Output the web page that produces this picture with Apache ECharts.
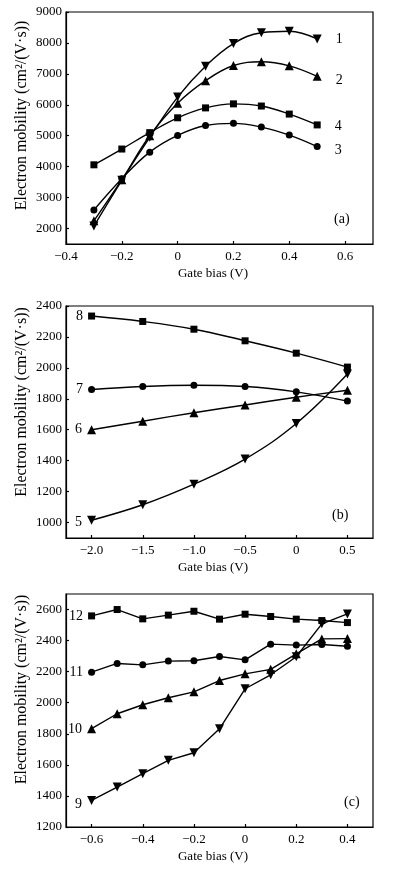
<!DOCTYPE html>
<html><head><meta charset="utf-8">
<script src="https://cdn.jsdelivr.net/npm/echarts@6/dist/echarts.min.js"></script>
<style>html,body{margin:0;padding:0;background:#fff}#c{width:394px;height:871px}</style>
</head><body><div id="c"></div>
<script>
// Panel (a)
const xA = [-0.3, -0.2, -0.1, 0, 0.1, 0.2, 0.3, 0.4, 0.5];
const a1 = [2080, 3560, 4950, 6250, 7250, 7980, 8330, 8380, 8130];
const a2 = [2250, 3580, 5000, 6050, 6780, 7270, 7390, 7260, 6920];
const a3 = [2600, 3610, 4470, 5010, 5330, 5400, 5280, 5020, 4650];
const a4 = [4060, 4570, 5100, 5580, 5900, 6030, 5960, 5700, 5350];
const aYTicks = [2000, 3000, 4000, 5000, 6000, 7000, 8000, 9000];
const aXTicks = [-0.4, -0.2, 0, 0.2, 0.4, 0.6];
// Panel (b)
const xB = [-2.0, -1.5, -1.0, -0.5, 0, 0.5];
const b5 = [1015, 1115, 1248, 1410, 1640, 1960];
const b6 = [1600, 1655, 1710, 1760, 1810, 1855];
const b7 = [1860, 1880, 1888, 1880, 1845, 1785];
const b8 = [2335, 2300, 2250, 2175, 2095, 2005];
const bYTicks = [1000, 1200, 1400, 1600, 1800, 2000, 2200, 2400];
const bXTicks = [-2.0, -1.5, -1.0, -0.5, 0, 0.5];
// Panel (c)
const xC = [-0.6, -0.5, -0.4, -0.3, -0.2, -0.1, 0, 0.1, 0.2, 0.3, 0.4];
const c9  = [1371, 1457, 1543, 1629, 1678, 1832, 2090, 2180, 2296, 2508, 2572];
const c10 = [1833, 1929, 1987, 2032, 2070, 2143, 2186, 2215, 2315, 2411, 2413];
const c11 = [2197, 2253, 2244, 2268, 2270, 2298, 2276, 2377, 2371, 2375, 2364];
const c12 = [2559, 2600, 2540, 2564, 2589, 2538, 2570, 2555, 2538, 2529, 2516];
const cYTicks = [1200, 1400, 1600, 1800, 2000, 2200, 2400, 2600];
const cXTicks = [-0.6, -0.4, -0.2, 0, 0.2, 0.4];

const FONT = '"Liberation Serif", "Times New Roman", serif';
const chart = echarts.init(document.getElementById('c'), null, {renderer: 'canvas'});

function fmtX(dec) {
  return function (v) {
    if (Math.abs(v) < 1e-9) return '0';
    const s = Math.abs(v).toFixed(dec);
    return (v < 0 ? '\u2212' : '') + s;
  };
}

const grids = [
  {left: 66, right: 21, top: 12, height: 232},
  {left: 66, right: 21, top: 306, height: 232},
  {left: 66, right: 21, top: 594, height: 233}
];
grids.forEach(g => { g.show = true; g.borderColor = '#000'; g.borderWidth = 1.2; g.backgroundColor = 'transparent'; });

function xAxisCfg(gi, min, max, ticks, dec) {
  return {
    type: 'value', gridIndex: gi, min: min, max: max,
    name: 'Gate bias (V)', nameLocation: 'middle', nameGap: 23, nameMoveOverlap: false,
    nameTextStyle: {fontFamily: FONT, fontSize: 13, color: '#000', padding: [0, 13, 0, 0], verticalAlign: 'top'},
    axisLine: {show: true, onZero: false, lineStyle: {color: '#000', width: 1.2}},
    axisTick: {show: true, inside: true, length: 3, customValues: ticks, lineStyle: {color: '#000', width: 1.2}},
    axisLabel: {customValues: ticks, formatter: fmtX(dec), fontFamily: FONT, fontSize: 13, color: '#000', margin: 6},
    splitLine: {show: false}
  };
}
function yAxisCfg(gi, min, max, ticks, shift) {
  return {
    type: 'value', gridIndex: gi, min: min, max: max,
    name: 'Electron mobility (cm\u00B2/(V\u00B7s))', nameLocation: 'middle', nameGap: 36, nameRotate: 90,
    nameMoveOverlap: false,
    nameTextStyle: {fontFamily: FONT, fontSize: 16, color: '#000', padding: [0, 0, 0, shift]},
    axisLine: {show: true, onZero: false, lineStyle: {color: '#000', width: 1.2}},
    axisTick: {show: true, inside: true, length: 3, customValues: ticks, lineStyle: {color: '#000', width: 1.2}},
    axisLabel: {customValues: ticks, formatter: v => String(v), fontFamily: FONT, fontSize: 13, color: '#000', margin: 4},
    splitLine: {show: false}
  };
}

const SYM = {
  down: {symbol: 'triangle', symbolSize: 9, symbolRotate: 180},
  up: {symbol: 'triangle', symbolSize: 9, symbolRotate: 0},
  square: {symbol: 'rect', symbolSize: 7, symbolRotate: 0},
  circle: {symbol: 'circle', symbolSize: 7, symbolRotate: 0}
};

function mkSeries(gi, xs, ys, shape, smooth, labelText, labelIdx, pos, dist, offset) {
  const data = xs.map((x, i) => {
    if (i === labelIdx) {
      return {value: [x, ys[i]], label: {show: true, formatter: labelText, position: pos, distance: dist, offset: offset || [0, 0],
        fontFamily: FONT, fontSize: 14, color: '#000'}};
    }
    return [x, ys[i]];
  });
  return Object.assign({
    type: 'line', xAxisIndex: gi, yAxisIndex: gi, data: data, smooth: smooth,
    lineStyle: {color: '#000', width: 1.4}, itemStyle: {color: '#000'},
    showAllSymbol: true, animation: false, emphasis: {disabled: true}, z: 3
  }, SYM[shape]);
}

const option = {
  animation: false,
  grid: grids,
  xAxis: [
    xAxisCfg(0, -0.4, 0.7, aXTicks, 1),
    xAxisCfg(1, -2.25, 0.75, bXTicks, 1),
    xAxisCfg(2, -0.7, 0.5, cXTicks, 1)
  ],
  yAxis: [
    yAxisCfg(0, 1500, 9000, aYTicks, 25),
    yAxisCfg(1, 900, 2400, bYTicks, 40),
    yAxisCfg(2, 1200, 2700, cYTicks, 42)
  ],
  series: [
    mkSeries(0, xA, a1, 'down', 0.4, '1', 8, 'right', 14, [0, 0]),
    mkSeries(0, xA, a2, 'up', 0.4, '2', 8, 'right', 14, [0, 4]),
    mkSeries(0, xA, a4, 'square', 0.4, '4', 8, 'right', 14, [0, 1]),
    mkSeries(0, xA, a3, 'circle', 0.4, '3', 8, 'right', 14, [0, 4]),
    mkSeries(1, xB, b5, 'down', 0.4, '5', 0, 'left', 5, [0, 2]),
    mkSeries(1, xB, b6, 'up', 0.4, '6', 0, 'left', 5, [0, 0]),
    mkSeries(1, xB, b7, 'circle', 0.4, '7', 0, 'left', 5, [0, 0]),
    mkSeries(1, xB, b8, 'square', 0.4, '8', 0, 'left', 5, [0, 0]),
    mkSeries(2, xC, c9, 'down', false, '9', 0, 'left', 5, [0, 4]),
    mkSeries(2, xC, c10, 'up', false, '10', 0, 'left', 5, [0, 1]),
    mkSeries(2, xC, c11, 'circle', false, '11', 0, 'left', 5, [0, 0]),
    mkSeries(2, xC, c12, 'square', false, '12', 0, 'left', 5, [0, 0])
  ],
  graphic: [
    {type: 'text', left: 334, top: 212, style: {text: '(a)', font: '14px ' + FONT, fill: '#000'}},
    {type: 'text', left: 332, top: 508, style: {text: '(b)', font: '14px ' + FONT, fill: '#000'}},
    {type: 'text', left: 344, top: 795, style: {text: '(c)', font: '14px ' + FONT, fill: '#000'}}
  ]
};
chart.setOption(option);
</script></body></html>
